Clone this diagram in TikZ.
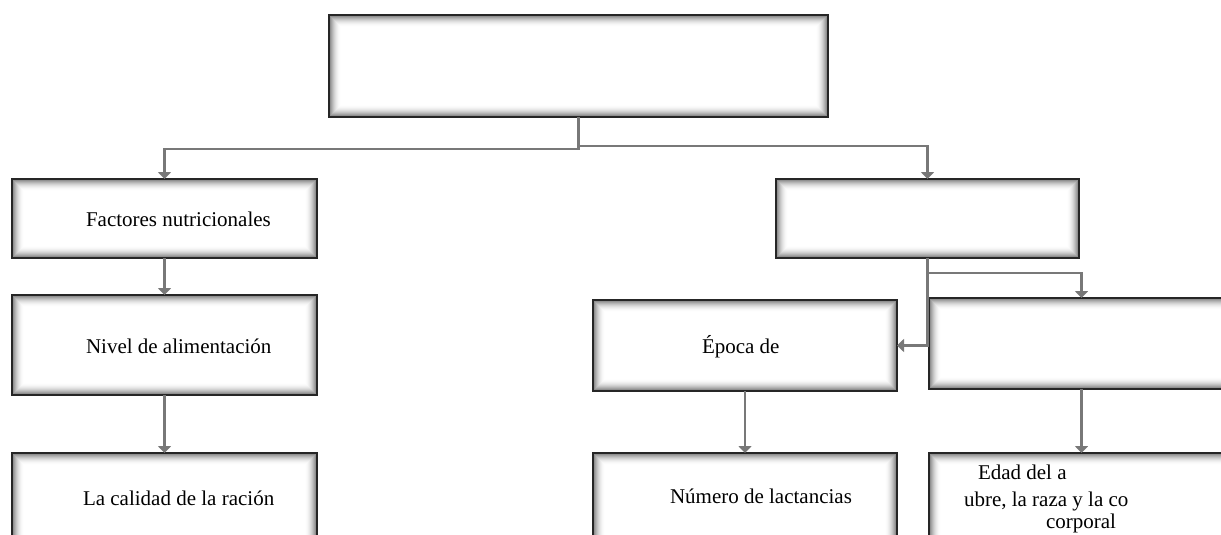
\documentclass[tikz,border=0pt]{standalone}
\usepackage{fontspec}
\setmainfont{Liberation Serif}
\usetikzlibrary{arrows.meta}
\definecolor{conngray}{HTML}{787878}
\begin{document}
\begin{tikzpicture}[x=1pt,y=-1pt,
  box/.style={rectangle, inner sep=0pt, outer sep=0pt, fill=white,
    draw=black!85, line width=2pt,
    path picture={
      \foreach \i [evaluate=\i as \c using {52*(1-\i/12)^2}] in {0,...,11} {
        \draw[line width=1.3pt, draw=black!\c]
          ([shift={(\i*1pt+0.6pt,\i*1pt+0.6pt)}]path picture bounding box.south west)
          rectangle
          ([shift={(-\i*1pt-0.6pt,-\i*1pt-0.6pt)}]path picture bounding box.north east);
      }
    }},
  conn/.style={draw=conngray, line width=2.3pt, arrows={-Triangle[width=13pt,length=7pt]}},
  lbl/.style={inner sep=0pt, outer sep=0pt, anchor=base west, font=\fontsize{21}{25}\selectfont}
]
\useasboundingbox (0,0) rectangle (1221,535);

% boxes
\node[box, minimum width=499pt, minimum height=102pt] (top) at (578.5,66) {};
\node[box, minimum width=305pt, minimum height=79pt]  (fn)  at (164.5,218.5) {};
\node[box, minimum width=305pt, minimum height=100pt] (na)  at (164.5,345) {};
\node[box, minimum width=305pt, minimum height=107pt] (cr)  at (164.5,506.5) {};
\node[box, minimum width=303pt, minimum height=79pt]  (tr)  at (927.5,218.5) {};
\node[box, minimum width=304pt, minimum height=91pt]  (ep)  at (745,345.5) {};
\node[box, minimum width=305pt, minimum height=91pt]  (rb)  at (1081.5,343.5) {};
\node[box, minimum width=304pt, minimum height=107pt] (nl)  at (745,506.5) {};
\node[box, minimum width=305pt, minimum height=107pt] (ed)  at (1081.5,506.5) {};

% texts
\node[lbl] (fnt) at (86,226) {Factores nutricionales};
\node[lbl] (nat) at (86,353) {Nivel de alimentación};
\node[lbl] (crt) at (83,505) {La calidad de la ración};
\node[lbl] (ept) at (702,353) {Época de};
\node[lbl] (nlt) at (670,503) {Número de lactancias};
\node[lbl] (ed1) at (978,479) {Edad del a};
\node[lbl] (ed2) at (964,506) {ubre, la raza y la co};
\node[lbl] (ed3) at (1046,528) {corporal};

% connectors
\draw[conn] (top.south) -- ++(0,32) -| (fn.north);
\draw[conn] ([yshift=-29pt]top.south) -| (tr.north);
\draw[conn] (fn.south) -- (na.north);
\draw[conn] (na.south) -- (cr.north);
\draw[conn] (tr.south) |- (ep.east);
\draw[conn] ([yshift=-15pt]tr.south) -| (rb.north);
\draw[conn] (ep.south) -- (nl.north);
\draw[conn] (rb.south) -- (ed.north);
\end{tikzpicture}
\end{document}
